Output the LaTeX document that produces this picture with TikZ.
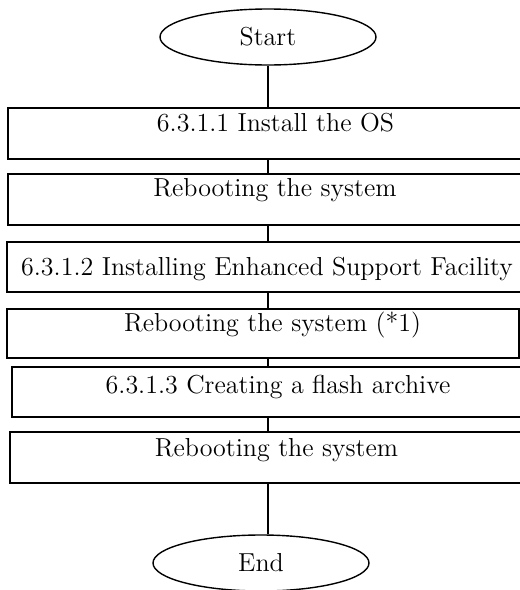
\documentclass[tikz,border=0pt]{standalone}
\usetikzlibrary{shapes.geometric}
\begin{document}
\begin{tikzpicture}[x=0.5pt, y=-0.5pt, line width=0.7pt,
  every node/.style={font=\fontsize{13}{15.5}\selectfont},
  terminal/.style={draw, ellipse, minimum width=108pt, minimum height=28pt, inner sep=0pt},
  stepbox/.style={draw, rectangle, inner sep=0pt}]
\useasboundingbox (0,0) rectangle (520,590);
\clip (0,0) rectangle (520,590);
% start and end
\node[terminal] (start) at (268,37) {Start};
\node[terminal] (end) at (261,563) {End};
% steps (boxes run past the right edge)
\node[stepbox, minimum width=266pt, minimum height=25.5pt,
  label={[xshift=0.75pt, yshift=5.25pt]center:6.3.1.1 Install the OS}] (os) at (274,133.5) {};
\node[stepbox, minimum width=266pt, minimum height=25.5pt,
  label={[xshift=0.5pt, yshift=4.75pt]center:Rebooting the system}] (reboota) at (274,199.5) {};
\node[stepbox, minimum width=266.5pt, minimum height=25pt,
  label={[xshift=-3.25pt, yshift=-1pt]center:6.3.1.2 Installing Enhanced Support Facility}] (esf) at (273.5,267) {};
\node[stepbox, minimum width=256pt, minimum height=24.5pt,
  label={[xshift=4.75pt, yshift=4.25pt]center:Rebooting the system (*1)}] (rebootb) at (263,333.5) {};
\node[stepbox, minimum width=264pt, minimum height=25pt,
  label={[xshift=1pt, yshift=2.5pt]center:6.3.1.3 Creating a flash archive}] (flar) at (276,392) {};
\node[stepbox, minimum width=265pt, minimum height=25.5pt,
  label={[xshift=0.75pt, yshift=3.75pt]center:Rebooting the system}] (rebootc) at (275,457.5) {};
% connectors
\draw (start) -- (start |- os.north);
\draw (os.south -| start) -- (reboota.north -| start);
\draw (reboota.south -| start) -- (esf.north -| start);
\draw (esf.south -| start) -- (rebootb.north -| start);
\draw (rebootb.south -| start) -- (flar.north -| start);
\draw (flar.south -| start) -- (rebootc.north -| start);
\draw (rebootc.south -| start) -- (start |- end.north);
\end{tikzpicture}
\end{document}
